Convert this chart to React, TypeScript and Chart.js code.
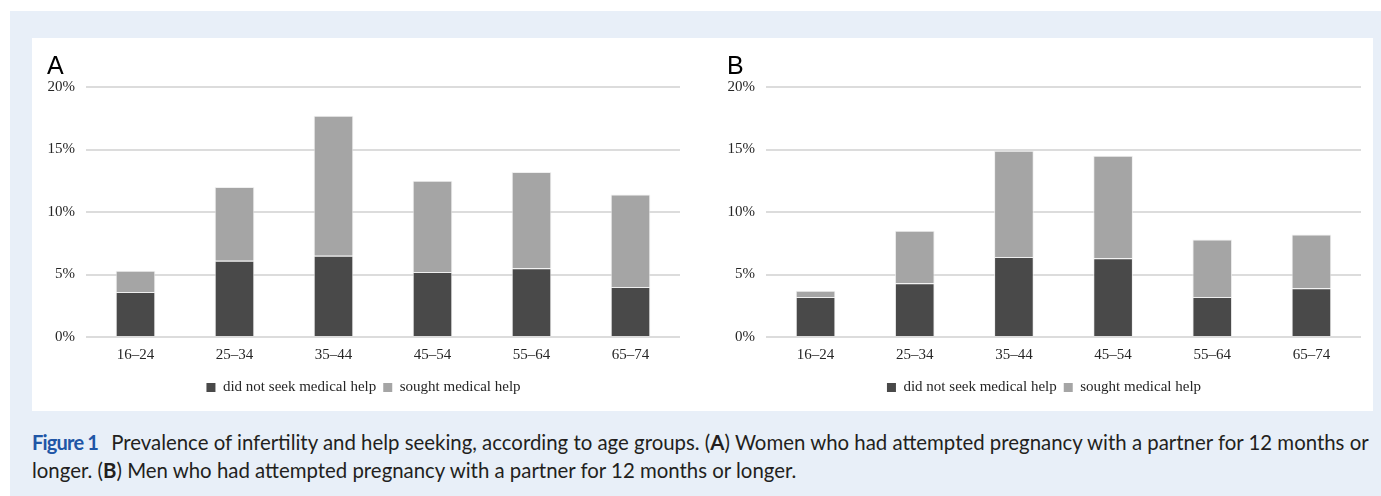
import React, { useEffect, useRef } from "react";
import { Chart, registerables } from "chart.js";

Chart.register(...registerables);

const categories = ["16–24", "25–34", "35–44", "45–54", "55–64", "65–74"];
const womenNoHelp = [3.6, 6.1, 6.5, 5.2, 5.5, 4.0];
const womenSought = [1.7, 5.9, 11.2, 7.3, 7.7, 7.4];
const menNoHelp = [3.2, 4.3, 6.4, 6.3, 3.2, 3.9];
const menSought = [0.5, 4.2, 8.5, 8.2, 4.6, 4.3];
const seriesLabels = ["did not seek medical help", "sought medical help"];
const yTicks = [0, 5, 10, 15, 20];

const SERIF = "'Liberation Serif', serif";
const TEXT = "#262626";

function makeConfig(title: string, noHelp: number[], sought: number[]): any {
  return {
    type: "bar",
    data: {
      labels: categories,
      datasets: [
        {
          label: seriesLabels[0],
          data: noHelp,
          backgroundColor: "#494949",
          borderColor: "rgba(235,235,235,0.8)",
          borderWidth: 1,
          barPercentage: 0.4,
          categoryPercentage: 1,
        },
        {
          label: seriesLabels[1],
          data: sought,
          backgroundColor: "#a5a5a5",
          borderColor: "rgba(235,235,235,0.8)",
          borderWidth: 1,
          barPercentage: 0.4,
          categoryPercentage: 1,
        },
      ],
    },
    options: {
      animation: false,
      responsive: true,
      maintainAspectRatio: false,
      layout: { padding: { left: 15, right: 12, top: 0, bottom: 6 } },
      plugins: {
        title: {
          display: true,
          text: title,
          align: "start",
          color: "#000",
          font: { family: "'Liberation Sans', sans-serif", size: 25, weight: "normal" },
          padding: { top: 14, bottom: 5 },
        },
        legend: {
          display: true,
          position: "bottom",
          labels: {
            boxWidth: 9,
            boxHeight: 9,
            color: TEXT,
            padding: 7,
            font: { family: SERIF, size: 15 },
            generateLabels: (chart: any) =>
              chart.data.datasets.map((ds: any, i: number) => ({
                text: ds.label,
                fillStyle: ds.backgroundColor,
                strokeStyle: ds.backgroundColor,
                lineWidth: 0,
                hidden: false,
                datasetIndex: i,
                fontColor: TEXT,
              })),
          },
        },
        tooltip: { enabled: false },
      },
      scales: {
        x: {
          stacked: true,
          grid: { display: false, drawTicks: false },
          border: { display: false },
          ticks: { color: TEXT, font: { family: SERIF, size: 15 }, padding: 9 },
        },
        y: {
          stacked: true,
          min: yTicks[0],
          max: yTicks[yTicks.length - 1],
          afterBuildTicks: (axis: any) => {
            axis.ticks = yTicks.map((v) => ({ value: v }));
          },
          afterFit: (axis: any) => {
            axis.width = 39;
          },
          grid: { color: "#dcdcdc", lineWidth: 2, drawTicks: false },
          border: { display: false },
          ticks: {
            color: TEXT,
            font: { family: SERIF, size: 15 },
            padding: 11,
            callback: (v: any) => `${v}%`,
          },
        },
      },
    },
  };
}

function BarChart({ title, noHelp, sought }: { title: string; noHelp: number[]; sought: number[] }) {
  const ref = useRef<HTMLCanvasElement | null>(null);
  useEffect(() => {
    if (!ref.current) return;
    const chart = new Chart(ref.current, makeConfig(title, noHelp, sought));
    return () => chart.destroy();
  }, [title, noHelp, sought]);
  return <canvas ref={ref} />;
}

export default function App() {
  const captionFont = "Lato, 'Open Sans', sans-serif";
  return (
    <div
      style={{
        position: "absolute",
        left: 10,
        top: 11,
        width: 1371,
        height: 485,
        background: "#e8eff8",
        overflow: "hidden",
      }}
    >
      <div
        style={{
          position: "absolute",
          left: 22,
          top: 27,
          width: 1341,
          height: 373,
          background: "#ffffff",
        }}
      >
        <div style={{ position: "absolute", left: 0, top: 0, width: 660, height: 373 }}>
          <BarChart title="A" noHelp={womenNoHelp} sought={womenSought} />
        </div>
        <div style={{ position: "absolute", left: 680, top: 0, width: 661, height: 373 }}>
          <BarChart title="B" noHelp={menNoHelp} sought={menSought} />
        </div>
      </div>
      <div
        style={{
          position: "absolute",
          left: 22,
          top: 417,
          fontFamily: captionFont,
          fontSize: 20.4,
          lineHeight: "28px",
          color: "#231f20",
          whiteSpace: "nowrap",
        }}
      >
        <div>
          <span
            style={{ color: "#1f56a6", fontWeight: 700, fontSize: 20, letterSpacing: -0.8, marginRight: 13 }}
          >
            Figure 1
          </span>
          Prevalence of infertility and help seeking, according to age groups. (<b>A</b>) Women who had attempted
          pregnancy with a partner for 12 months or
        </div>
        <div>
          longer. (<b>B</b>) Men who had attempted pregnancy with a partner for 12 months or longer.
        </div>
      </div>
    </div>
  );
}
